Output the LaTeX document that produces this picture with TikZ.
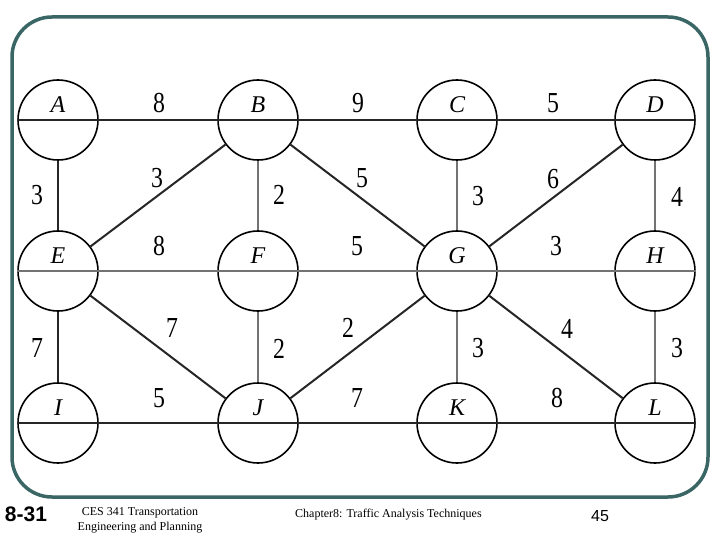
\documentclass[tikz,border=0pt]{standalone}
\usepackage{fontspec}
\setmainfont{Liberation Serif}
\newfontfamily\arialfont{Liberation Sans}
\newfontfamily\numfont[FakeStretch=0.82]{Liberation Serif}
\begin{document}
\begin{tikzpicture}[x=1pt,y=-1pt,
  vtx/.style={circle,draw=black,line width=1.6pt,minimum size=80pt,inner sep=0pt},
  lett/.style={font=\fontsize{24}{24}\selectfont\itshape,inner sep=0pt},
  wt/.style={font=\numfont\fontsize{29}{29}\selectfont,inner sep=0pt},
  blk/.style={draw=black!85,line width=2pt},
  gry/.style={draw=black!55,line width=2.4pt},
  foot/.style={font=\fontsize{12}{15}\selectfont,inner sep=0pt,align=center}]
\useasboundingbox (0,0) rectangle (720,540);
\fill[white] (0,0) rectangle (720,540);
% frame
\draw[draw={rgb,255:red,58;green,102;blue,102},line width=3.5pt,rounded corners=40pt] (12,17) rectangle (708,497);
% vertices
\foreach \n/\x/\y in {A/58/120,B/258/120,C/457/120,D/655/120,
                      E/58/271,F/258/271,G/457/271,H/655/271,
                      I/58/423,J/258/423,K/457/423,L/655/423}{
  \node[vtx] (\n) at (\x,\y) {};
  \node[lett] (l\n) at ([yshift=15.5pt]\n.center) {\n};
}
% horizontal rows
\draw[blk] (A.west) -- (D.east);
\draw[gry] (E.west) -- (H.east);
\draw[blk] (I.west) -- (L.east);
% verticals
\draw[blk] (A) -- (E);
\draw[gry] (B) -- (F);
\draw[gry] (C) -- (G);
\draw[gry] (D) -- (H);
\draw[blk] (E) -- (I);
\draw[gry] (F) -- (J);
\draw[gry] (G) -- (K);
\draw[gry] (H) -- (L);
% diagonals
\draw[blk] (B) -- (E);
\draw[blk] (B) -- (G);
\draw[blk] (D) -- (G);
\draw[blk] (E) -- (J);
\draw[blk] (J) -- (G);
\draw[blk] (G) -- (L);
% weights
\foreach \t/\x/\y [count=\i] in {8/159/103,9/358/103,5/553/103,
   3/37/195,3/157/178,2/279/195,5/362/178,3/478/196,6/553/179,4/677/197,
   8/159/246,5/357/246,3/556/246,
   7/37/348,7/172/328,2/279/349,2/348/328,3/478/348,4/567/329,3/677/348,
   5/159/398,7/357/398,8/557/398}{
  \node[wt] (w\i) at (\x,\y) {\t};
}
% footer
\node[font=\arialfont\bfseries\fontsize{21}{21}\selectfont,inner sep=0pt] (pg) at (26,514) {8-31};
\node[foot] (ces) at (140,520) {CES 341 Transportation\\Engineering and Planning};
\node[foot,anchor=west] (ch) at (295,515) {Chapter8: Traffic Analysis Techniques};
\node[font=\arialfont\fontsize{16}{16}\selectfont,inner sep=0pt] (num) at (600,516) {45};
\end{tikzpicture}
\end{document}
